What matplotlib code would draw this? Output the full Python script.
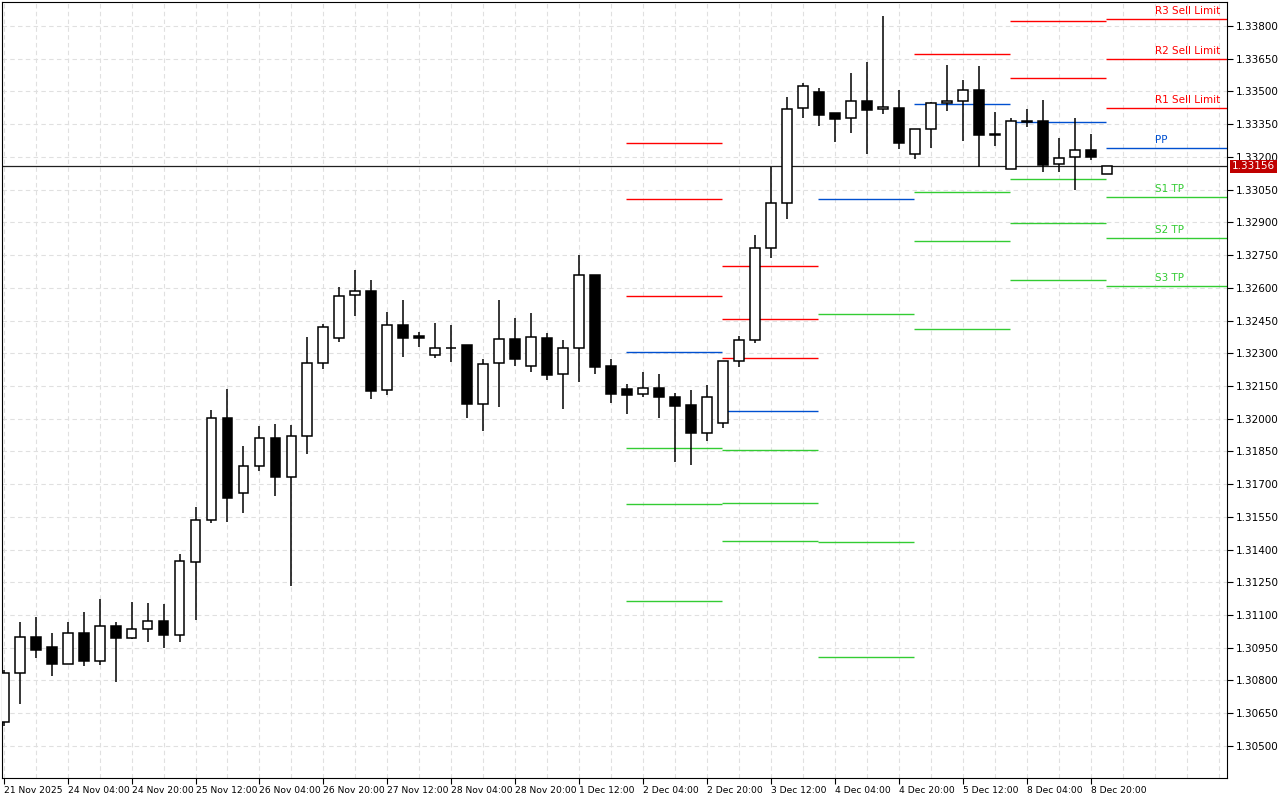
import numpy as np
import matplotlib
matplotlib.use("Agg")
import matplotlib.pyplot as plt

# 4h candles, GBPUSD-style prices
opens = [1.30610, 1.30835, 1.31000, 1.30954, 1.30876, 1.31018, 1.30890, 1.31050, 1.30995, 1.31036,
         1.31073, 1.31009, 1.31343, 1.31536, 1.32004, 1.31659, 1.31783, 1.31911, 1.31733, 1.31921,
         1.32256, 1.32370, 1.32567, 1.32585, 1.32132, 1.32430, 1.32379, 1.32292, 1.32324, 1.32338,
         1.32067, 1.32256, 1.32365, 1.32242, 1.32370, 1.32205, 1.32324, 1.32659, 1.32242, 1.32136,
         1.32113, 1.32141, 1.32100, 1.32063, 1.31935, 1.31980, 1.32265, 1.32361, 1.32782, 1.32989,
         1.33424, 1.33497, 1.33401, 1.33378, 1.33456, 1.33419, 1.33424, 1.33213, 1.33328, 1.33447,
         1.33456, 1.33507, 1.33305, 1.33144, 1.33364, 1.33364, 1.33167, 1.33199, 1.33232, 1.33122]
highs = [1.30849, 1.31068, 1.31091, 1.31018, 1.31068, 1.31114, 1.31174, 1.31068, 1.31160, 1.31155,
         1.31151, 1.31380, 1.31596, 1.32040, 1.32136, 1.31875, 1.31966, 1.31975, 1.31971, 1.32375,
         1.32434, 1.32604, 1.32682, 1.32636, 1.32489, 1.32544, 1.32397, 1.32439, 1.32430, 1.32338,
         1.32274, 1.32544, 1.32462, 1.32485, 1.32393, 1.32361, 1.32750, 1.32659, 1.32274, 1.32159,
         1.32214, 1.32205, 1.32118, 1.32132, 1.32155, 1.32265, 1.32379, 1.32842, 1.33154, 1.33474,
         1.33539, 1.33516, 1.33401, 1.33584, 1.33635, 1.33846, 1.33507, 1.33328, 1.33452, 1.33621,
         1.33552, 1.33617, 1.33406, 1.33378, 1.33419, 1.33461, 1.33287, 1.33378, 1.33305, 1.33156]
lows = [1.30592, 1.30693, 1.30903, 1.30821, 1.30876, 1.30867, 1.30871, 1.30794, 1.30990, 1.30977,
        1.30949, 1.30977, 1.31077, 1.31522, 1.31527, 1.31568, 1.31760, 1.31646, 1.31233, 1.31838,
        1.32228, 1.32352, 1.32471, 1.32091, 1.32109, 1.32283, 1.32329, 1.32278, 1.32260, 1.32004,
        1.31944, 1.32054, 1.32242, 1.32214, 1.32177, 1.32045, 1.32168, 1.32205, 1.32072, 1.32022,
        1.32100, 1.32004, 1.31802, 1.31788, 1.31898, 1.31958, 1.32237, 1.32347, 1.32737, 1.32915,
        1.33378, 1.33342, 1.33268, 1.33309, 1.33213, 1.33397, 1.33236, 1.33190, 1.33241, 1.33410,
        1.33273, 1.33154, 1.33250, 1.33144, 1.33337, 1.33131, 1.33131, 1.33048, 1.33186, 1.33122]
closes = [1.30835, 1.31000, 1.30940, 1.30876, 1.31018, 1.30890, 1.31050, 1.30995, 1.31036, 1.31073,
          1.31009, 1.31348, 1.31536, 1.32004, 1.31636, 1.31783, 1.31911, 1.31733, 1.31921, 1.32256,
          1.32421, 1.32562, 1.32585, 1.32127, 1.32430, 1.32370, 1.32370, 1.32324, 1.32322, 1.32067,
          1.32251, 1.32365, 1.32274, 1.32375, 1.32200, 1.32324, 1.32659, 1.32237, 1.32113, 1.32109,
          1.32141, 1.32100, 1.32058, 1.31935, 1.32100, 1.32265, 1.32361, 1.32782, 1.32989, 1.33419,
          1.33525, 1.33392, 1.33374, 1.33456, 1.33415, 1.33429, 1.33264, 1.33328, 1.33447, 1.33456,
          1.33507, 1.33300, 1.33300, 1.33364, 1.33360, 1.33163, 1.33195, 1.33232, 1.33199, 1.33156]

current_price = 1.33156

# daily pivot segments: (first candle, resistance levels, pivot, support levels)
seg_start = [38, 44, 50, 56, 62, 68]
seg_res = [[1.33264, 1.33007, 1.32562], [1.32700, 1.32457, 1.32278], [],
           [1.33672], [1.33823, 1.33562], [1.33832, 1.33649, 1.33424]]
seg_pp = [1.32306, 1.32035, 1.33007, 1.33442, 1.33360, 1.33241]
seg_sup = [[1.31866, 1.31609, 1.31164], [1.31857, 1.31614, 1.31439], [1.32480, 1.31435, 1.30908],
           [1.33039, 1.32814, 1.32411], [1.33099, 1.32897, 1.32636], [1.33016, 1.32828, 1.32609]]
res_names = ["R3 Sell Limit", "R2 Sell Limit", "R1 Sell Limit"]
sup_names = ["S1 TP", "S2 TP", "S3 TP"]

tick_labels = ["21 Nov 2025", "24 Nov 04:00", "24 Nov 20:00", "25 Nov 12:00", "26 Nov 04:00",
               "26 Nov 20:00", "27 Nov 12:00", "28 Nov 04:00", "28 Nov 20:00", "1 Dec 12:00",
               "2 Dec 04:00", "2 Dec 20:00", "3 Dec 12:00", "4 Dec 04:00", "4 Dec 20:00",
               "5 Dec 12:00", "8 Dec 04:00", "8 Dec 20:00"]

RED = "#ff0000"
BLUE = "#0050d0"
GREEN = "#33cc33"

fig = plt.figure(figsize=(12.8, 8), dpi=100)
ax = fig.add_axes([2 / 1280, 22 / 800, 1225 / 1280, 776 / 800])
xmax = 76.5
ax.set_xlim(-0.1, xmax)
ax.set_ylim(1.30353, 1.33910)

# grid
for gx in np.arange(0, xmax, 2):
    ax.axvline(gx, color="#e0e0e0", lw=0.8, ls=(0, (4, 3)), zorder=0)
yticks = np.arange(1.30500, 1.33801, 0.0015)
for gy in yticks:
    ax.axhline(gy, color="#e0e0e0", lw=0.8, ls=(0, (4, 3)), zorder=0)

# pivot lines
for k, s in enumerate(seg_start):
    x0 = s + 0.95
    x1 = x0 + 6 if k < len(seg_start) - 1 else xmax
    for lv in seg_res[k]:
        ax.hlines(lv, x0, x1, color=RED, lw=1, zorder=1)
    ax.hlines(seg_pp[k], x0, x1, color=BLUE, lw=1, zorder=1)
    for lv in seg_sup[k]:
        ax.hlines(lv, x0, x1, color=GREEN, lw=1, zorder=1)

# labels on the last day
lx = seg_start[-1] + 4
last = len(seg_start) - 1
for name, lv in zip(res_names, seg_res[last]):
    ax.text(lx, lv + 0.00012, name, color=RED, fontsize=7.5, va="bottom")
ax.text(lx, seg_pp[last] + 0.00012, "PP", color=BLUE, fontsize=7.5, va="bottom")
for name, lv in zip(sup_names, seg_sup[last]):
    ax.text(lx, lv + 0.00012, name, color=GREEN, fontsize=7.5, va="bottom")

# current price line
ax.axhline(current_price, color="#202020", lw=0.9, zorder=2)

# candles
x = np.arange(len(opens))
o = np.array(opens); c = np.array(closes)
ax.vlines(x, lows, highs, color="black", lw=1.1, zorder=3)
up = c >= o
bottom = np.minimum(o, c)
height = np.maximum(np.abs(c - o), 0.00002)
ax.bar(x[up], height[up], bottom=bottom[up], width=0.62, color="white",
       edgecolor="black", linewidth=1.1, zorder=4)
ax.bar(x[~up], height[~up], bottom=bottom[~up], width=0.62, color="black",
       edgecolor="black", linewidth=1.1, zorder=4)

# axes styling
ax.spines["top"].set_linewidth(0.8)
ax.spines["left"].set_linewidth(0.8)
ax.yaxis.tick_right()
ax.set_yticks(yticks)
ax.set_yticklabels([f"{v:.5f}" for v in yticks], fontsize=7.5)
ax.set_xticks(np.arange(0, len(tick_labels) * 4, 4))
ax.set_xticklabels(tick_labels, fontsize=6.6, ha="left")
ax.tick_params(axis="both", direction="out", length=4, width=0.8, pad=2)

ax.text(1.004, current_price, f"{current_price:.5f}", transform=ax.get_yaxis_transform(),
        fontsize=7.5, color="white", va="center", ha="left",
        bbox=dict(boxstyle="square,pad=0.15", facecolor="#c00000", edgecolor="none"))

fig.savefig("out.png", dpi=100)
